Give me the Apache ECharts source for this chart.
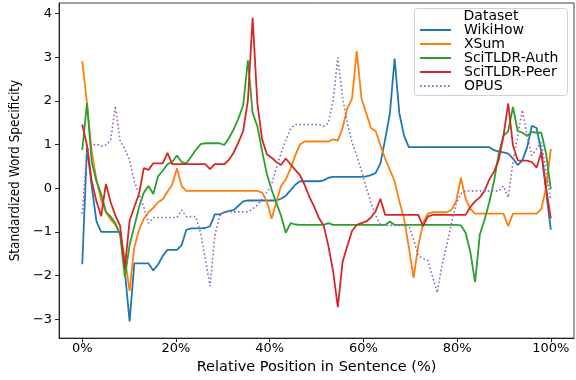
<!DOCTYPE html>
<html>
<head>
<meta charset="utf-8">
<script src="https://cdn.jsdelivr.net/npm/echarts@6/dist/echarts.min.js"></script>
<style>html,body{margin:0;padding:0;background:#fff}#c{width:576px;height:380px}</style>
</head>
<body>
<div id="c"></div>
<script>
var seriesNames = ['WikiHow', 'XSum', 'SciTLDR-Auth', 'SciTLDR-Peer', 'OPUS'];
var xTicks = [0, 20, 40, 60, 80, 100];
var yTicks = [-3, -2, -1, 0, 1, 2, 3, 4];

var wikihow = [
 -1.74, 0.94, 0.05, -0.76, -1.0, -1.0, -1.0, -1.0, -1.0, -1.9,
 -3.05, -1.72, -1.72, -1.72, -1.72, -1.88, -1.75, -1.55, -1.41, -1.41,
 -1.41, -1.3, -0.95, -0.92, -0.92, -0.92, -0.91, -0.87, -0.6, -0.6,
 -0.55, -0.52, -0.5, -0.4, -0.3, -0.28, -0.28, -0.28, -0.28, -0.28,
 -0.28, -0.28, -0.24, -0.17, -0.05, 0.08, 0.16, 0.16, 0.16, 0.16,
 0.16, 0.18, 0.24, 0.26, 0.26, 0.26, 0.26, 0.26, 0.26, 0.26,
 0.27, 0.3, 0.35, 0.57, 1.12, 1.71, 2.97, 1.71, 1.2, 0.94,
 0.94, 0.94, 0.94, 0.94, 0.94, 0.94, 0.94, 0.94, 0.94, 0.94,
 0.94, 0.94, 0.94, 0.94, 0.94, 0.94, 0.94, 0.87, 0.84, 0.82,
 0.79, 0.68, 0.53, 0.64, 0.94, 1.43, 1.38, 0.83, -0.06, -0.95
];
var xsum = [
 2.91, 1.94, 0.83, 0.2, -0.28, -0.55, -0.72, -0.84, -1.05, -1.6,
 -2.35, -1.35, -0.95, -0.7, -0.55, -0.45, -0.32, -0.25, -0.08, 0.08,
 0.46, 0.05, -0.06, -0.06, -0.06, -0.06, -0.06, -0.06, -0.06, -0.06,
 -0.06, -0.06, -0.06, -0.06, -0.06, -0.06, -0.06, -0.06, -0.1, -0.3,
 -0.7, -0.32, 0.05, 0.2, 0.45, 0.75, 1.0, 1.07, 1.07, 1.07,
 1.07, 1.07, 1.07, 1.12, 1.09, 1.38, 1.83, 2.05, 3.14, 2.05,
 1.72, 1.38, 1.31, 0.98, 0.68, 0.42, 0.16, -0.3, -0.7, -1.35,
 -2.05, -1.32, -0.8, -0.58, -0.55, -0.55, -0.55, -0.55, -0.5, -0.3,
 0.24, -0.24, -0.47, -0.58, -0.58, -0.58, -0.58, -0.58, -0.58, -0.58,
 -0.87, -0.58, -0.58, -0.58, -0.58, -0.58, -0.58, -0.47, 0.01, 0.9
];
var scitldrAuth = [
 0.88, 1.95, 0.6, 0.16, -0.13, -0.54, -0.65, -0.8, -1.06, -2.03,
 -1.3, -0.87, -0.43, -0.1, 0.05, -0.13, 0.27, 0.4, 0.55, 0.6,
 0.75, 0.6, 0.57, 0.72, 0.88, 1.01, 1.03, 1.03, 1.03, 1.03,
 0.99, 1.15, 1.35, 1.6, 1.9, 2.93, 1.72, 1.42, 0.85, 0.33,
 -0.03, -0.33, -0.63, -1.02, -0.8, -0.83, -0.84, -0.84, -0.84, -0.84,
 -0.84, -0.84, -0.8, -0.84, -0.84, -0.84, -0.84, -0.84, -0.84, -0.84,
 -0.84, -0.84, -0.84, -0.84, -0.84, -0.76, -0.84, -0.84, -0.84, -0.84,
 -0.84, -0.84, -0.84, -0.84, -0.84, -0.84, -0.84, -0.84, -0.84, -0.84,
 -0.85, -1.02, -1.46, -2.15, -1.06, -0.72, -0.32, 0.16, 0.79, 1.2,
 1.31, 1.86, 1.31, 1.27, 1.2, 1.29, 1.27, 1.27, 0.79, -0.02
];
var scitldrPeer = [
 1.46, 0.98, 0.16, -0.3, -0.64, 0.1, -0.32, -0.62, -0.86, -1.83,
 -0.75, -0.43, -0.13, 0.46, 0.42, 0.57, 0.57, 0.57, 0.81, 0.55,
 0.55, 0.55, 0.55, 0.55, 0.55, 0.55, 0.55, 0.44, 0.55, 0.55,
 0.55, 0.65, 0.82, 1.05, 1.31, 2.01, 3.9, 1.94, 1.12, 0.78,
 0.7, 0.6, 0.53, 0.68, 0.55, 0.42, 0.3, 0.07, -0.2, -0.42,
 -0.68, -0.85, -1.32, -1.9, -2.72, -1.69, -1.32, -0.98, -0.84, -0.8,
 -0.76, -0.67, -0.52, -0.24, -0.61, -0.61, -0.61, -0.61, -0.61, -0.61,
 -0.61, -0.61, -0.87, -0.65, -0.61, -0.61, -0.61, -0.61, -0.61, -0.61,
 -0.61, -0.61, -0.43, -0.3, -0.21, -0.06, 0.2, 0.38, 0.65, 1.2,
 1.94, 0.98, 0.64, 0.63, 0.63, 0.6, 0.47, 0.83, 0.01, -0.69
];
var opus = [
 -0.58, 0.85, 0.98, 1.01, 0.96, 0.99, 1.1, 1.88, 1.09, 0.9,
 0.64, 0.16, -0.13, -0.43, -0.8, -0.67, -0.67, -0.67, -0.67, -0.67,
 -0.67, -0.5, -0.65, -0.65, -0.65, -1.02, -1.61, -2.24, -1.09, -0.64,
 -0.54, -0.54, -0.54, -0.54, -0.54, -0.54, -0.47, -0.39, -0.24, -0.1,
 0.09, 0.46, 0.8, 1.1, 1.35, 1.46, 1.46, 1.46, 1.46, 1.46,
 1.46, 1.42, 1.49, 2.01, 2.99, 2.08, 1.49, 1.05, 0.75, 0.4,
 0.02, -0.32, -0.62, -0.84, -0.85, -0.85, -0.85, -0.85, -0.85, -0.85,
 -1.17, -1.54, -1.61, -1.65, -2.02, -2.39, -1.76, -1.32, -0.8, -0.35,
 -0.13, -0.06, -0.06, -0.06, -0.06, -0.06, -0.06, -0.06, -0.06, 0.05,
 -0.21, 0.6, 1.2, 1.79, 1.2, 0.75, 0.9, 1.05, 0.38, -0.28
];

var allValues = [wikihow, xsum, scitldrAuth, scitldrPeer, opus];
var colors = ['#1f77b4', '#ff7f0e', '#2ca02c', '#d62728', '#9467bd'];
var FONT = 'DejaVu Sans';

function pairs(vals) {
  var n = vals.length;
  return vals.map(function (v, i) { return [i * 100 / (n - 1), v]; });
}

var series = allValues.map(function (vals, k) {
  var dotted = k === 4;
  return {
    name: seriesNames[k],
    type: 'line',
    data: pairs(vals),
    symbol: 'none',
    smooth: false,
    animation: false,
    lineStyle: {
      color: colors[k],
      width: dotted ? 1.6 : 1.8,
      type: dotted ? [1.6, 2.4] : 'solid'
    },
    itemStyle: { color: colors[k] },
    z: 2 + k
  };
});

var chart = echarts.init(document.getElementById('c'), null, { renderer: 'canvas' });
chart.setOption({
  animation: false,
  backgroundColor: '#ffffff',
  grid: { left: 57, right: 2, top: 3, bottom: 31, show: true, borderColor: '#444', borderWidth: 1, backgroundColor: 'transparent' },
  xAxis: {
    type: 'value', min: -4.95, max: 104.95,
    name: 'Relative Position in Sentence (%)', nameLocation: 'middle', nameGap: 14,
    nameTextStyle: { fontFamily: FONT, fontSize: 14.5, color: '#000', verticalAlign: 'top' },
    axisLine: { show: true, onZero: false, lineStyle: { color: '#222', width: 1 } },
    axisTick: { show: true, customValues: xTicks, length: 4, lineStyle: { color: '#222' } },
    axisLabel: { customValues: xTicks, formatter: '{value}%', fontFamily: FONT, fontSize: 13, color: '#000', margin: 4 },
    splitLine: { show: false }
  },
  yAxis: {
    type: 'value', min: -3.43, max: 4.24,
    name: 'Standardized Word Specificity', nameLocation: 'middle', nameGap: 37, nameRotate: 90,
    nameTextStyle: { fontFamily: 'DejaVu Sans Condensed', fontSize: 13.5, color: '#000' },
    axisLine: { show: true, onZero: false, lineStyle: { color: '#222', width: 1 } },
    axisTick: { show: true, customValues: yTicks, length: 4, lineStyle: { color: '#222' } },
    axisLabel: {
      customValues: yTicks, fontFamily: FONT, fontSize: 13, color: '#000', margin: 7,
      formatter: function (v) { return v < 0 ? '\u2212' + Math.abs(v) : String(v); }
    },
    splitLine: { show: false }
  },
  legend: {
    orient: 'vertical', left: 419, top: 23, padding: 0, itemGap: 0,
    itemWidth: 31, itemHeight: 10, z: 10,
    data: seriesNames,
    itemStyle: { opacity: 0 },
    textStyle: { fontFamily: FONT, fontSize: 14, lineHeight: 14, color: '#000', padding: [0, 0, 0, 8] }
  },
  graphic: [
    { type: 'rect', z: 5, shape: { x: 414.5, y: 8.5, width: 153, height: 87, r: 3 },
      style: { fill: 'rgba(255,255,255,0.8)', stroke: '#d0d0d0', lineWidth: 1 } },
    { type: 'text', z: 10, x: 491, y: 16,
      style: { text: 'Dataset', fontFamily: FONT, fontSize: 14, fill: '#000', align: 'center', verticalAlign: 'middle' } }
  ],
  series: series
});
</script>
</body>
</html>
